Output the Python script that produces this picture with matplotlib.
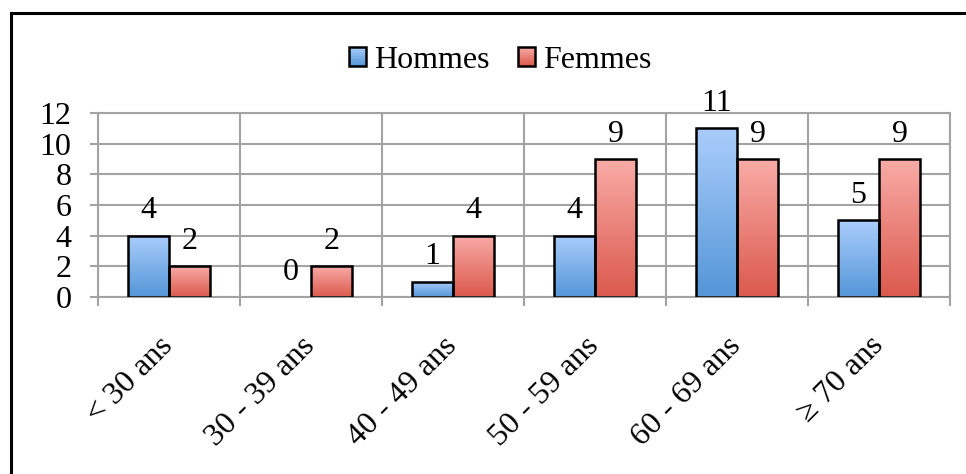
import numpy as np
import matplotlib.pyplot as plt
from matplotlib.colors import LinearSegmentedColormap
from matplotlib.patches import Rectangle
from matplotlib.legend_handler import HandlerBase

categories = ["< 30 ans", "30 - 39 ans", "40 - 49 ans", "50 - 59 ans", "60 - 69 ans", "\u2265 70 ans"]
hommes = [4, 0, 1, 4, 11, 5]
femmes = [2, 2, 4, 9, 9, 9]
series_names = ["Hommes", "Femmes"]

BLUE_TOP, BLUE_BOT = "#aacdfb", "#5496d8"
RED_TOP, RED_BOT = "#f9aba7", "#db594c"
GRID = "#a3a3a3"
FONT = "Liberation Serif"
FS = 23

plt.rcParams["font.family"] = [FONT, "DejaVu Serif"]


def grad_cmap(top, bottom):
    return LinearSegmentedColormap.from_list("g", [bottom, top])


def fill_gradient(ax, bars, top, bottom):
    cmap = grad_cmap(top, bottom)
    grad = np.linspace(0, 1, 256).reshape(-1, 1)
    for rect in bars:
        x0, y0 = rect.get_xy()
        w, h = rect.get_width(), rect.get_height()
        if h <= 0:
            rect.set_visible(False)  # excel draws nothing for a zero bar
            continue
        im = ax.imshow(grad, cmap=cmap, origin="lower", aspect="auto",
                       extent=(x0, x0 + w, y0, y0 + h), zorder=2.5)
        im.set_clip_path(rect)


class GradHandler(HandlerBase):
    def __init__(self, top, bottom):
        super().__init__()
        self.cmap = grad_cmap(top, bottom)

    def create_artists(self, legend, orig_handle, xdescent, ydescent,
                       width, height, fontsize, trans):
        n = 12
        arts = []
        for k in range(n):
            arts.append(Rectangle((-xdescent, -ydescent + height * k / n), width,
                                  height / n * 1.05, facecolor=self.cmap((k + 0.5) / n),
                                  edgecolor="none", transform=trans))
        arts.append(Rectangle((-xdescent, -ydescent), width, height, facecolor="none",
                              edgecolor="black", lw=1.8, transform=trans))
        return arts


fig = plt.figure(figsize=(9.66, 4.74), dpi=100)
ax = fig.add_axes([98 / 966, 1 - 297 / 474, (950 - 98) / 966, (297 - 113) / 474])

x = np.arange(len(categories))
w = 0.29
b1 = ax.bar(x - w / 2, hommes, w, facecolor="none", edgecolor="black", lw=1.8, zorder=3)
b2 = ax.bar(x + w / 2, femmes, w, facecolor="none", edgecolor="black", lw=1.8, zorder=3)
fill_gradient(ax, b1, BLUE_TOP, BLUE_BOT)
fill_gradient(ax, b2, RED_TOP, RED_BOT)

for bars, vals in ((b1, hommes), (b2, femmes)):
    for rect, v in zip(bars, vals):
        ax.annotate(str(v), (rect.get_x() + rect.get_width() / 2, v),
                    xytext=(0, 12.5), textcoords="offset points",
                    ha="center", va="baseline", fontsize=FS)

ax.set_xlim(-0.5, len(categories) - 0.5)
ax.set_ylim(0, 12)
ax.set_yticks(range(0, 13, 2))
ax.set_xticks(x)
ax.set_xticklabels(categories, rotation=45, ha="right", va="center",
                   rotation_mode="anchor", fontsize=FS)
ax.set_xticks(np.arange(-0.5, len(categories), 1), minor=True)
ax.tick_params(axis="x", which="major", length=0, pad=32)
ax.tick_params(axis="x", which="minor", length=6.5, width=1.5, color=GRID)
ax.tick_params(axis="y", length=6, width=1.5, color=GRID, pad=13, labelsize=FS)
ax.grid(True, axis="x", which="minor", color=GRID, lw=1.5)
ax.grid(True, axis="y", which="major", color=GRID, lw=1.5)
ax.set_axisbelow(True)
for s in ax.spines.values():
    s.set_color(GRID)
    s.set_linewidth(1.5)

handles = [Rectangle((0, 0), 1, 1), Rectangle((0, 0), 1, 1)]
fig.legend(handles, series_names, loc="center", bbox_to_anchor=(0.518, 0.873),
           ncol=2, frameon=False, fontsize=FS, handlelength=0.52, handleheight=0.52,
           handletextpad=0.25, columnspacing=0.9,
           handler_map={handles[0]: GradHandler(BLUE_TOP, BLUE_BOT),
                        handles[1]: GradHandler(RED_TOP, RED_BOT)})

# outer chart border (right and bottom edges fall outside the image)
fig.add_artist(Rectangle((10.5 / 966, -0.2), 1.2, 1.2 - 13.5 / 474,
                         transform=fig.transFigure, facecolor="none",
                         edgecolor="black", lw=2.2, clip_on=False))

fig.savefig("out.png", dpi=100)
